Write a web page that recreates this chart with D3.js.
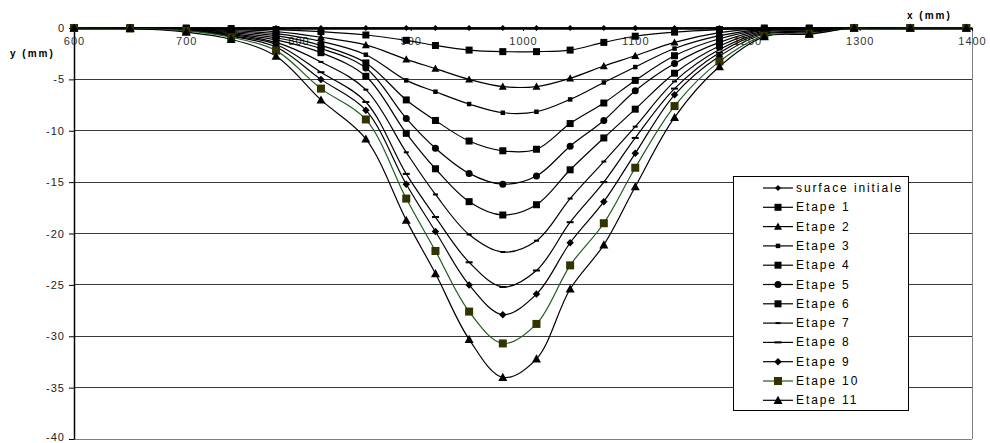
<!DOCTYPE html>
<html><head><meta charset="utf-8">
<script src="https://cdn.jsdelivr.net/npm/d3@7"></script>
<style>
body{margin:0;background:#fff;}
svg{display:block;font-family:Arial,"Liberation Sans",sans-serif;}
</style></head>
<body>
<svg id="chart" width="990" height="443"></svg>
<script>
const xValues = [600, 650, 700, 740, 780, 820, 860, 896, 922, 952, 982, 1012, 1042, 1072, 1100, 1135, 1175, 1215, 1255, 1295, 1345, 1395];
const seriesNames = ["surface initiale","Etape 1","Etape 2","Etape 3","Etape 4","Etape 5","Etape 6","Etape 7","Etape 8","Etape 9","Etape 10","Etape 11"];
const surface = [0,0,0,0,0,0,0,0,0,0,0,0,0,0,0,0,0,0,0,0,0,0];
const etape1 = [0,0,0,-0.05,-0.15,-0.35,-0.68,-1.2,-1.7,-2.15,-2.3,-2.3,-2.15,-1.4,-0.8,-0.4,-0.15,0,0,0,0,0];
const etape2 = [0,0,-0.05,-0.15,-0.35,-0.9,-1.65,-3.05,-3.95,-5.0,-5.7,-5.7,-4.9,-3.7,-2.7,-1.4,-0.45,-0.05,-0.05,0,0,0];
const etape3 = [0,0,-0.08,-0.25,-0.55,-1.3,-2.6,-5.1,-6.2,-7.4,-8.25,-8.15,-6.95,-5.3,-3.8,-2.0,-0.75,-0.1,-0.05,0,0,0];
const etape4 = [0,0,-0.1,-0.35,-0.75,-1.7,-3.4,-7.0,-9.0,-11.0,-11.95,-11.8,-9.3,-7.3,-5.1,-2.7,-1.05,-0.15,-0.1,0,0,0];
const etape5 = [0,0,-0.12,-0.45,-0.95,-2.0,-3.9,-8.8,-11.7,-14.15,-15.2,-14.4,-11.5,-9.0,-6.1,-3.45,-1.4,-0.2,-0.15,0,0,0];
const etape6 = [0,0,-0.15,-0.55,-1.15,-2.4,-4.7,-10.25,-13.7,-16.9,-18.2,-17.2,-13.8,-10.7,-7.9,-4.4,-1.75,-0.3,-0.2,0,0,0];
const etape7 = [0,0,-0.18,-0.65,-1.4,-3.3,-6.0,-12.1,-16.2,-20.1,-21.8,-20.7,-16.6,-13.0,-9.6,-5.2,-2.1,-0.4,-0.3,0,0,0];
const etape8 = [0,0,-0.2,-0.75,-1.6,-4.3,-7.2,-14.2,-18.4,-22.8,-25.2,-23.6,-18.9,-15.0,-10.7,-5.9,-2.4,-0.5,-0.35,0,0,0];
const etape9 = [0,0,-0.22,-0.8,-1.85,-5.0,-8.0,-15.2,-19.8,-25.0,-27.9,-25.9,-20.9,-16.9,-12.2,-6.5,-2.75,-0.6,-0.45,0,0,0];
const etape10 = [0,-0.05,-0.28,-0.9,-2.2,-5.9,-8.9,-16.6,-21.7,-27.6,-30.7,-28.8,-23.1,-19.0,-13.6,-7.6,-3.25,-0.75,-0.55,0,0,0];
const etape11 = [0,-0.05,-0.4,-1.1,-2.75,-7.0,-10.8,-18.7,-23.9,-30.3,-34.0,-32.2,-25.4,-21.1,-15.45,-8.7,-3.75,-0.85,-0.6,0,0,0];
const xTicks = [600,700,800,900,1000,1100,1200,1300,1400];
const yTicks = [0,-5,-10,-15,-20,-25,-30,-35,-40];
const yTickLabels = ["0","-5","-10","-15","-20","-25","-30","-35","-40"];

const allSeries = [surface,etape1,etape2,etape3,etape4,etape5,etape6,etape7,etape8,etape9,etape10,etape11];
const markerStyle = [
  ["diamond",5,"#000"],["square",7,"#000"],["triangle",7,"#000"],["square",4.5,"#000"],
  ["square",7,"#000"],["circle",7,"#000"],["square",7,"#000"],["dash",5,"#000"],
  ["dash",7,"#000"],["diamond",6.5,"#000"],["square",8,"#333300"],["triangle",8,"#000"]
];
const lineColors = ["#000","#000","#000","#000","#000","#000","#000","#000","#000","#000","#1d5e1d","#000"];

const svg = d3.select("#chart");
const x = d3.scaleLinear().domain([600,1400]).range([74,972]);
const y = d3.scaleLinear().domain([0,-40]).range([28,439]);

svg.append("g").selectAll("line").data(yTicks.filter(d=>d<0)).join("line")
  .attr("x1",74).attr("x2",972).attr("y1",d=>y(d)).attr("y2",d=>y(d))
  .attr("stroke",d=>d===-40?"#808080":"#3a3a3a").attr("stroke-width",1).attr("shape-rendering","crispEdges");
svg.append("line").attr("x1",972).attr("x2",972).attr("y1",y(0)).attr("y2",y(-40))
  .attr("stroke","#808080").attr("shape-rendering","crispEdges");

const yAxis = svg.append("g").attr("transform","translate(74,0)")
  .call(d3.axisLeft(y).tickValues(yTicks).tickSize(5).tickSizeOuter(0).tickPadding(4)
    .tickFormat((d,i)=>yTickLabels[i]));
yAxis.select(".domain").attr("stroke","#000").attr("stroke-width",1.5);
yAxis.selectAll(".tick line").attr("stroke","#000");
yAxis.selectAll("text").attr("font-size","11px").attr("letter-spacing","1px").attr("fill","#222");
yAxis.selectAll(".tick").filter(d=>d===-40).select("text").attr("dy","0.1em");

const xAxis = svg.append("g").attr("transform","translate(0,"+y(0)+")")
  .call(d3.axisBottom(x).tickValues(xTicks).tickSize(3).tickSizeOuter(0).tickPadding(6).tickFormat(d3.format("d")));
xAxis.select(".domain").attr("stroke","#000").attr("stroke-width",2.5);
xAxis.selectAll(".tick line").attr("stroke","#000");
xAxis.selectAll("text").attr("font-size","11px").attr("letter-spacing","1px").attr("fill","#333");

svg.append("text").attr("x",10).attr("y",57).text("y (mm)")
  .attr("font-size","10px").attr("font-weight","bold").attr("letter-spacing","2px");
svg.append("text").attr("x",907).attr("y",19).text("x (mm)")
  .attr("font-size","10px").attr("font-weight","bold").attr("letter-spacing","2px");

const line = d3.line().x((d,i)=>x(xValues[i])).y(d=>y(d)).curve(d3.curveCatmullRom.alpha(0.5));

function drawMarker(g, cx, cy, st){
  const [shape,s,fill] = st;
  if(shape==="square"){
    g.append("rect").attr("x",cx-s/2).attr("y",cy-s/2).attr("width",s).attr("height",s).attr("fill",fill);
  } else if(shape==="circle"){
    g.append("circle").attr("cx",cx).attr("cy",cy).attr("r",s/2).attr("fill",fill);
  } else if(shape==="diamond"){
    const h=s/2+0.5;
    g.append("path").attr("d",`M${cx},${cy-h}L${cx+h},${cy}L${cx},${cy+h}L${cx-h},${cy}Z`).attr("fill",fill);
  } else if(shape==="triangle"){
    const h=s/2+0.5;
    g.append("path").attr("d",`M${cx},${cy-h}L${cx+h},${cy+h*0.8}L${cx-h},${cy+h*0.8}Z`).attr("fill",fill);
  } else if(shape==="dash"){
    g.append("rect").attr("x",cx-s/2).attr("y",cy-1).attr("width",s).attr("height",2).attr("fill",fill);
  }
}

const plot = svg.append("g");
allSeries.forEach((vals,k)=>{
  plot.append("path").datum(vals).attr("d",line).attr("fill","none")
    .attr("stroke",lineColors[k]).attr("stroke-width",k===0?1.5:1.2);
});
allSeries.forEach((vals,k)=>{
  const g = plot.append("g");
  vals.forEach((v,i)=>drawMarker(g, x(xValues[i]), y(v), markerStyle[k]));
});

const lg = svg.append("g");
lg.append("rect").attr("x",733.5).attr("y",176.5).attr("width",175).attr("height",234)
  .attr("fill","#fff").attr("stroke","#000").attr("stroke-width",1);
seriesNames.forEach((name,k)=>{
  const cy = 188 + k*19.3;
  lg.append("line").attr("x1",763).attr("x2",793).attr("y1",cy).attr("y2",cy)
    .attr("stroke",lineColors[k]).attr("stroke-width",1.2);
  drawMarker(lg, 778, cy, markerStyle[k]);
  lg.append("text").attr("x",796).attr("y",cy+4).text(name)
    .attr("font-size","12px").attr("letter-spacing","1.9px").attr("fill","#000");
});
</script>
</body></html>
